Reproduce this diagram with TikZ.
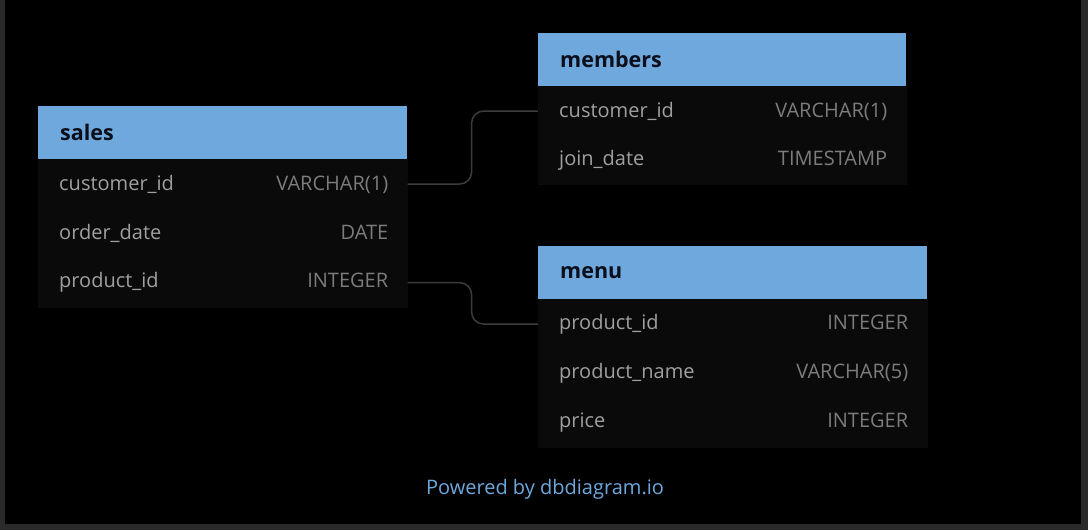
\documentclass[tikz,border=0pt]{standalone}
\usepackage{fontspec}
\setmainfont{Open Sans}
\usetikzlibrary{positioning}
\definecolor{hdrblue}{HTML}{6FA8DC}
\definecolor{hdrtext}{HTML}{0B0F1C}
\definecolor{rowbg}{HTML}{0A0A0A}
\definecolor{fieldgray}{HTML}{A0A0A0}
\definecolor{typegray}{HTML}{7C7C7C}
\definecolor{linkgray}{HTML}{3C3C3C}
\definecolor{framegray}{HTML}{2A2A2A}
\begin{document}
\begin{tikzpicture}[x=1pt,y=-1pt,
		tblhead/.style={rectangle, fill=hdrblue, anchor=north west, minimum height=53pt,
			inner xsep=22pt, inner ysep=0pt, text width=#1-44pt, align=left,
			text=hdrtext, font=\fontsize{21.5}{23}\selectfont\bfseries},
		fieldrow/.style={rectangle, fill=rowbg, draw=rowbg, line width=0.8pt,
			minimum height=48.5pt, inner xsep=21pt, inner ysep=0pt, text width=#1-42pt,
			text=fieldgray, font=\fontsize{20}{22}\selectfont},
		link/.style={draw=linkgray, line width=1.5pt, rounded corners=12pt}
		]
		\useasboundingbox (0,0) rectangle (1088,530);
		\fill[framegray] (0,0) rectangle (1088,530);
		\fill[black] (5,0) rectangle (1081,524);
		% sales
		\node[tblhead=369pt](sales) at (38,106){sales};
		\node[fieldrow=369pt, below=0pt of sales](scust){customer\_id\hfill\textcolor{typegray}{VARCHAR(1)}\kern-2pt};
		\node[fieldrow=369pt, below=0pt of scust](sdate){order\_date\hfill\textcolor{typegray}{DATE}\kern-2pt};
		\node[fieldrow=369pt, below=0pt of sdate](sprod){product\_id\hfill\textcolor{typegray}{INTEGER}\kern-2pt};
		% members
		\node[tblhead=368pt](members) at (538,33){members};
		\node[fieldrow=368pt, below=0pt of members](mcust){customer\_id\hfill\textcolor{typegray}{VARCHAR(1)}\kern-2pt};
		\node[fieldrow=368pt, below=0pt of mcust](mjoin){join\_date\hfill\textcolor{typegray}{TIMESTAMP}\kern-2pt};
		% menu
		\node[tblhead=389pt](menu) at (538,246){menu};
		\node[fieldrow=389pt, below=0pt of menu](nprod){product\_id\hfill\textcolor{typegray}{INTEGER}\kern-2pt};
		\node[fieldrow=389pt, below=0pt of nprod](nname){product\_name\hfill\textcolor{typegray}{VARCHAR(5)}\kern-2pt};
		\node[fieldrow=389pt, below=0pt of nname](nprice){price\hfill\textcolor{typegray}{INTEGER}\kern-2pt};
		% links
		\draw[link] (scust.east) -- ++(64,0) |- (mcust.west);
		\draw[link] (sprod.east) -- ++(64,0) |- (nprod.west);
		\node[text=hdrblue, font=\fontsize{20}{22}\selectfont](credit) at (545,489){Powered by dbdiagram.io};
	\end{tikzpicture}
\end{document}
